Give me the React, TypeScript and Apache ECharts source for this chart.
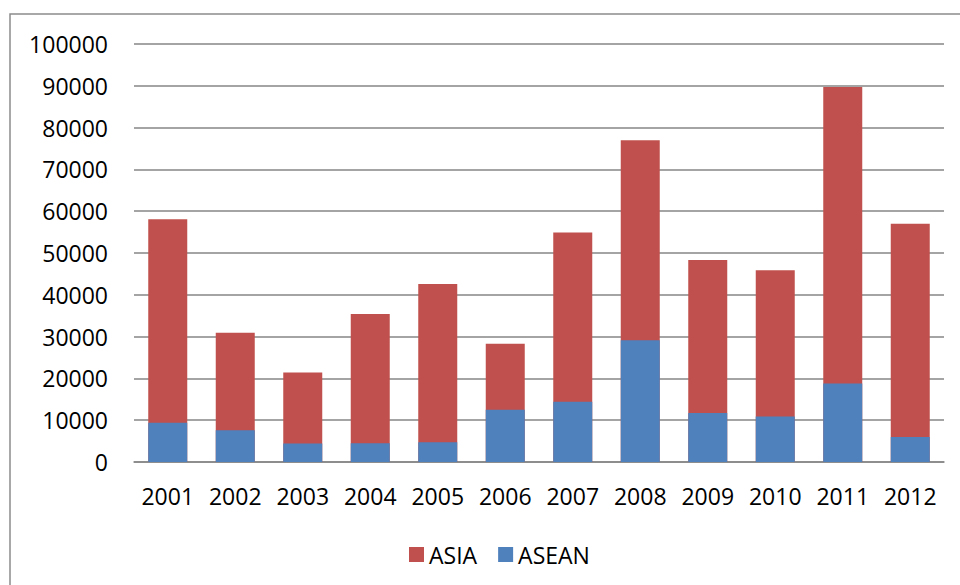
import React, { useEffect, useRef } from "react";
import * as echarts from "echarts";

const years = ["2001", "2002", "2003", "2004", "2005", "2006", "2007", "2008", "2009", "2010", "2011", "2012"];
const asia = [58100, 30900, 21400, 35400, 42600, 28300, 54900, 77000, 48300, 45900, 89700, 57000];
const asean = [9400, 7600, 4400, 4500, 4700, 12500, 14400, 29100, 11700, 10900, 18800, 6000];

const FONT = "'Open Sans', 'Liberation Sans', sans-serif";

export default function App() {
  const ref = useRef<HTMLDivElement>(null);
  useEffect(() => {
    document.body.style.margin = "0";
    const chart = echarts.init(ref.current!, null, { renderer: "svg" });
    chart.setOption({
      animation: false,
      backgroundColor: "#ffffff",
      graphic: [
        {
          type: "rect",
          shape: { x: 10, y: 14, width: 980, height: 620 },
          style: { fill: "none", stroke: "#8c8c8c", lineWidth: 1.5 },
          silent: true,
        },
      ],
      grid: { left: 134, right: 16, top: 44, bottom: 123, containLabel: false },
      legend: {
        left: 404,
        top: 538,
        itemWidth: 15,
        itemHeight: 15,
        itemGap: 21,
        icon: "rect",
        data: ["ASIA", "ASEAN"],
        textStyle: { fontFamily: FONT, fontSize: 23, color: "#000" },
      },
      xAxis: {
        type: "category",
        data: years,
        axisTick: { show: false },
        axisLine: { show: true, lineStyle: { color: "#868686", width: 1.5 } },
        axisLabel: { interval: 0, fontFamily: FONT, fontSize: 23, color: "#000", margin: 22 },
      },
      yAxis: {
        type: "value",
        min: 0,
        max: 100000,
        interval: 10000,
        axisLine: { show: false },
        axisTick: { show: false },
        splitLine: { lineStyle: { color: "#868686", width: 1.5 } },
        axisLabel: {
          fontFamily: FONT,
          fontSize: 23,
          color: "#000",
          margin: 26,
          formatter: (v: number) => String(v),
        },
      },
      series: [
        {
          name: "ASIA",
          type: "bar",
          data: asia,
          barWidth: 39,
          itemStyle: { color: "#C0504D" },
        },
        {
          name: "ASEAN",
          type: "bar",
          data: asean,
          barWidth: 39,
          barGap: "-100%",
          itemStyle: { color: "#4F81BD" },
        },
      ],
    });
    return () => chart.dispose();
  }, []);
  return <div ref={ref} style={{ width: 960, height: 585 }} />;
}
